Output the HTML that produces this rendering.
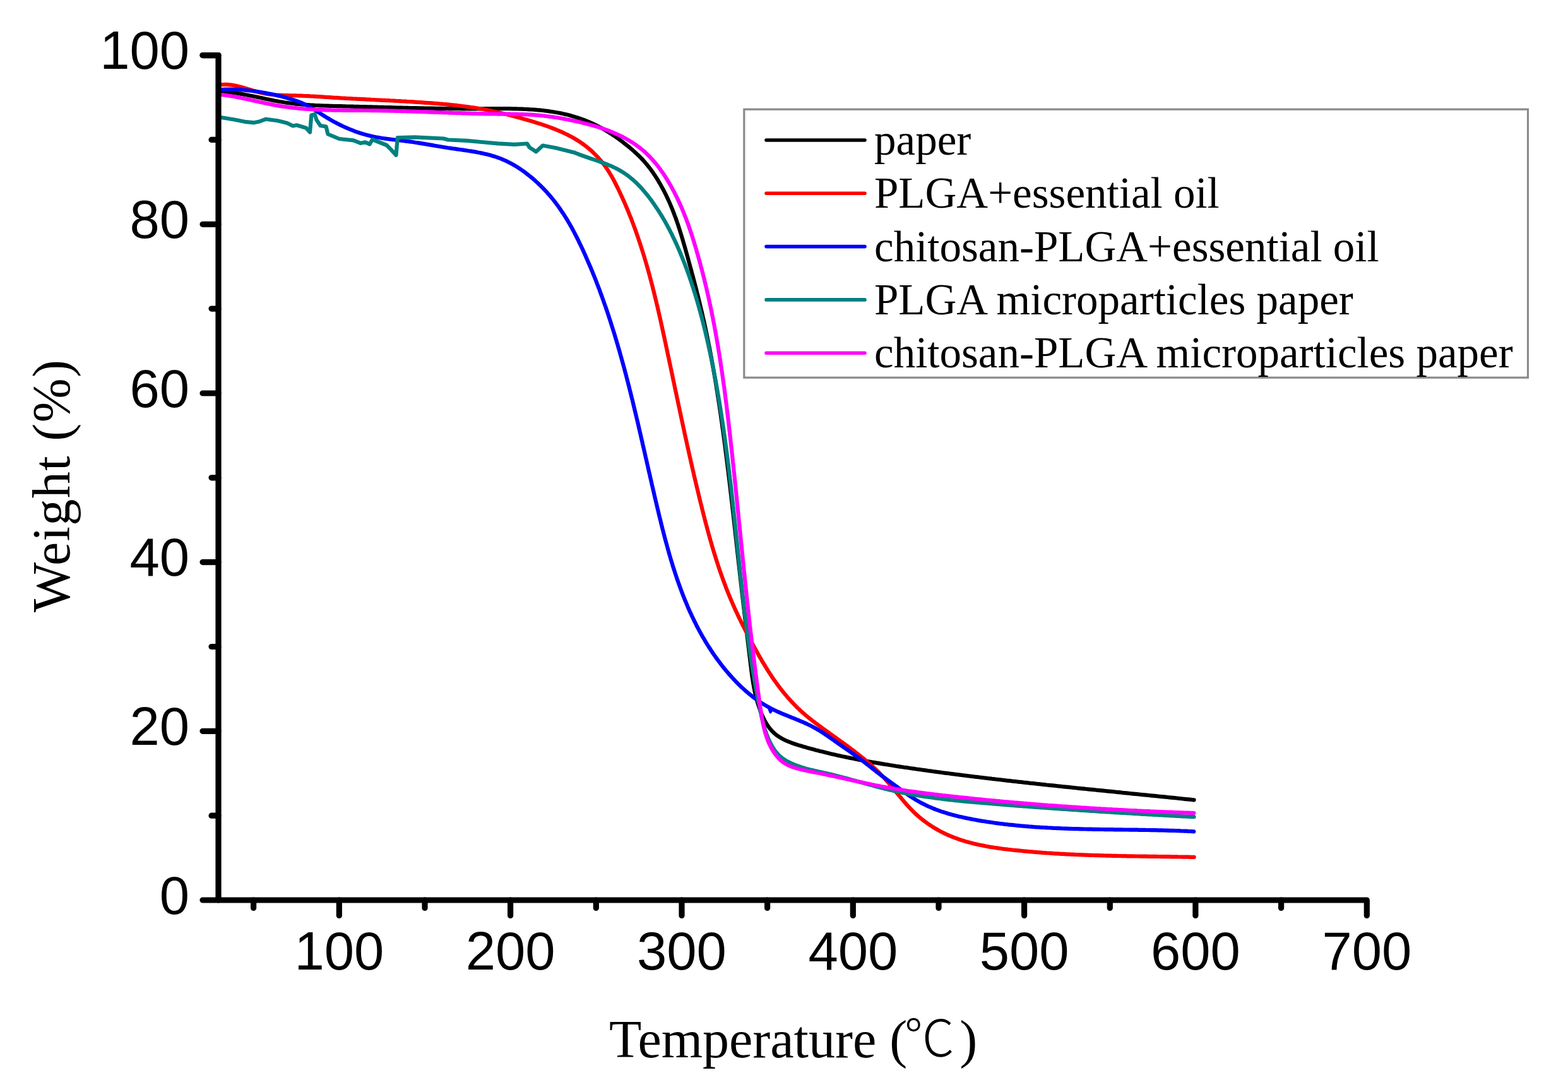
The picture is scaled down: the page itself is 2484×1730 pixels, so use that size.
<!DOCTYPE html>
<html><head><meta charset="utf-8"><title>TGA curves</title>
<style>
html,body{margin:0;padding:0;background:#fff;}
body{width:2484px;height:1730px;overflow:hidden;}
svg{display:block;}
.tick{font-family:"Liberation Sans",Arial,sans-serif;font-size:85px;fill:#000;}
.serif{font-family:"Liberation Serif","Times New Roman",serif;fill:#000;}
</style></head><body>
<svg width="2484" height="1730" viewBox="0 0 2484 1730">
<rect width="2484" height="1730" fill="#fff"/>
<g fill="none" stroke-linecap="round" stroke-linejoin="round" stroke-width="6.2">
<path d="M347.2 145.4 350.1 145.4 353.1 145.5 356.0 145.7 358.9 145.9 361.9 146.1 364.8 146.4 367.7 146.8 370.7 147.1 373.6 147.5 376.6 148.0 379.5 148.4 382.5 148.9 385.4 149.4 388.4 150.0 391.4 150.5 394.3 151.1 397.3 151.7 400.2 152.3 403.2 152.9 406.2 153.5 409.2 154.1 412.1 154.8 415.1 155.4 418.1 156.0 421.0 156.7 424.0 157.3 427.0 157.9 430.0 158.5 433.0 159.1 436.0 159.7 438.9 160.2 441.9 160.8 444.9 161.3 447.9 161.8 450.9 162.3 453.9 162.7 456.9 163.1 459.9 163.5 462.9 163.9 465.8 164.2 468.8 164.6 471.8 164.9 474.8 165.2 477.8 165.4 480.8 165.7 483.8 165.9 486.8 166.1 489.8 166.3 492.8 166.5 495.8 166.7 498.8 166.9 501.8 167.0 504.8 167.1 507.8 167.3 510.8 167.4 513.8 167.5 516.8 167.6 519.8 167.7 522.8 167.8 525.8 167.9 528.8 168.0 531.8 168.0 534.8 168.1 537.8 168.2 540.8 168.2 543.8 168.3 546.8 168.4 549.8 168.5 552.8 168.5 555.8 168.6 558.7 168.7 561.7 168.8 564.7 168.8 567.7 168.9 570.7 169.0 573.7 169.1 576.7 169.1 579.7 169.2 582.7 169.3 585.7 169.4 588.7 169.4 591.6 169.5 594.6 169.6 597.6 169.7 600.6 169.8 603.6 169.8 606.6 169.9 609.6 170.0 612.6 170.1 615.6 170.2 618.6 170.2 621.5 170.3 624.5 170.4 627.5 170.5 630.5 170.5 633.5 170.6 636.5 170.7 639.5 170.8 642.5 170.8 645.5 170.9 648.5 171.0 651.5 171.0 654.5 171.1 657.5 171.2 660.5 171.2 663.5 171.3 666.5 171.4 669.5 171.4 672.5 171.5 675.5 171.5 678.5 171.6 681.5 171.6 684.5 171.7 687.5 171.7 690.5 171.8 693.5 171.8 696.5 171.9 699.5 171.9 702.5 172.0 705.5 172.0 708.5 172.0 711.5 172.1 714.6 172.1 717.6 172.1 720.6 172.2 723.6 172.2 726.6 172.2 729.6 172.2 732.7 172.3 735.7 172.3 738.7 172.3 741.7 172.3 744.8 172.3 747.8 172.3 750.8 172.3 753.9 172.3 756.9 172.3 759.9 172.3 763.0 172.3 766.0 172.3 769.1 172.2 772.1 172.2 775.2 172.2 778.2 172.2 781.2 172.2 784.3 172.2 787.3 172.1 790.4 172.1 793.4 172.1 796.5 172.1 799.5 172.2 802.5 172.2 805.6 172.2 808.6 172.2 811.7 172.3 814.7 172.3 817.7 172.4 820.8 172.5 823.8 172.6 826.8 172.7 829.8 172.8 832.8 173.0 835.9 173.1 838.9 173.3 841.9 173.5 844.9 173.7 847.9 173.9 850.9 174.2 853.8 174.4 856.8 174.7 859.8 175.0 862.8 175.4 865.7 175.7 868.7 176.1 871.6 176.6 874.6 177.0 877.5 177.5 880.5 178.0 883.4 178.5 886.3 179.0 889.2 179.6 892.1 180.3 895.0 180.9 897.9 181.6 900.8 182.3 903.6 183.1 906.5 183.9 909.3 184.7 912.2 185.6 915.0 186.5 917.8 187.4 920.6 188.4 923.4 189.4 926.2 190.5 929.0 191.6 931.7 192.7 934.5 193.9 937.2 195.1 939.9 196.3 942.6 197.6 945.3 198.9 948.0 200.3 950.6 201.7 953.3 203.1 955.9 204.5 958.5 206.0 961.1 207.6 963.7 209.2 966.2 210.8 968.8 212.4 971.3 214.1 973.8 215.8 976.3 217.5 978.7 219.2 981.2 221.0 983.6 222.8 986.0 224.6 988.4 226.5 990.7 228.3 993.1 230.2 995.4 232.0 997.7 233.9 999.9 235.8 1002.2 237.7 1004.4 239.7 1006.6 241.7 1008.7 243.7 1010.9 245.7 1013.0 247.8 1015.1 249.9 1017.1 252.0 1019.2 254.2 1021.2 256.5 1023.1 258.7 1025.1 261.1 1027.0 263.5 1028.9 265.9 1030.8 268.4 1032.6 270.9 1034.4 273.4 1036.1 276.0 1037.9 278.6 1039.6 281.2 1041.3 283.9 1042.9 286.6 1044.5 289.3 1046.1 292.0 1047.6 294.7 1049.1 297.4 1050.6 300.1 1052.0 302.9 1053.4 305.6 1054.8 308.4 1056.1 311.1 1057.4 313.9 1058.7 316.6 1059.9 319.4 1061.1 322.1 1062.3 324.9 1063.5 327.7 1064.6 330.4 1065.7 333.2 1066.8 336.0 1067.9 338.8 1068.9 341.6 1070.0 344.3 1071.0 347.1 1072.0 349.9 1072.9 352.7 1073.9 355.5 1074.8 358.3 1075.7 361.1 1076.6 363.9 1077.5 366.8 1078.4 369.6 1079.3 372.4 1080.1 375.2 1081.0 378.0 1081.8 380.9 1082.6 383.7 1083.4 386.5 1084.3 389.4 1085.1 392.2 1085.9 395.1 1086.7 397.9 1087.5 400.8 1088.3 403.6 1089.1 406.5 1089.9 409.3 1090.7 412.2 1091.4 415.0 1092.2 417.9 1093.0 420.8 1093.8 423.6 1094.6 426.5 1095.4 429.4 1096.1 432.3 1096.9 435.1 1097.7 438.0 1098.4 440.9 1099.2 443.8 1100.0 446.7 1100.7 449.6 1101.5 452.5 1102.2 455.4 1103.0 458.3 1103.7 461.2 1104.4 464.1 1105.2 467.0 1105.9 469.9 1106.6 472.8 1107.3 475.7 1108.0 478.6 1108.7 481.5 1109.4 484.4 1110.1 487.4 1110.8 490.3 1111.5 493.2 1112.2 496.1 1112.9 499.1 1113.5 502.0 1114.2 504.9 1114.9 507.8 1115.5 510.8 1116.2 513.7 1116.8 516.7 1117.4 519.6 1118.1 522.5 1118.7 525.5 1119.3 528.4 1119.9 531.4 1120.5 534.3 1121.1 537.3 1121.7 540.2 1122.3 543.2 1122.9 546.1 1123.5 549.1 1124.1 552.0 1124.6 555.0 1125.2 557.9 1125.8 560.9 1126.3 563.9 1126.9 566.8 1127.4 569.8 1128.0 572.8 1128.5 575.7 1129.0 578.7 1129.6 581.7 1130.1 584.6 1130.6 587.6 1131.1 590.6 1131.7 593.5 1132.2 596.5 1132.7 599.5 1133.2 602.5 1133.7 605.4 1134.2 608.4 1134.6 611.4 1135.1 614.4 1135.6 617.4 1136.1 620.3 1136.6 623.3 1137.0 626.3 1137.5 629.3 1138.0 632.3 1138.4 635.3 1138.9 638.2 1139.3 641.2 1139.8 644.2 1140.2 647.2 1140.7 650.2 1141.1 653.2 1141.6 656.2 1142.0 659.2 1142.4 662.1 1142.8 665.1 1143.3 668.1 1143.7 671.1 1144.1 674.1 1144.5 677.1 1144.9 680.1 1145.4 683.1 1145.8 686.1 1146.2 689.1 1146.6 692.0 1147.0 695.0 1147.4 698.0 1147.8 701.0 1148.2 704.0 1148.6 707.0 1149.0 710.0 1149.3 713.0 1149.7 716.0 1150.1 719.0 1150.5 722.0 1150.9 725.0 1151.3 727.9 1151.6 730.9 1152.0 733.9 1152.4 736.9 1152.7 739.9 1153.1 742.9 1153.5 745.9 1153.9 748.9 1154.2 751.9 1154.6 754.9 1154.9 757.9 1155.3 760.9 1155.7 763.8 1156.0 766.8 1156.4 769.8 1156.7 772.8 1157.1 775.8 1157.4 778.8 1157.8 781.8 1158.1 784.8 1158.5 787.8 1158.8 790.8 1159.2 793.8 1159.5 796.7 1159.9 799.7 1160.2 802.7 1160.5 805.7 1160.9 808.7 1161.2 811.7 1161.6 814.7 1161.9 817.7 1162.2 820.7 1162.6 823.7 1162.9 826.6 1163.2 829.6 1163.6 832.6 1163.9 835.6 1164.3 838.6 1164.6 841.6 1164.9 844.6 1165.3 847.6 1165.6 850.5 1165.9 853.5 1166.3 856.5 1166.6 859.5 1166.9 862.5 1167.3 865.5 1167.6 868.5 1167.9 871.4 1168.2 874.4 1168.6 877.4 1168.9 880.4 1169.2 883.4 1169.6 886.4 1169.9 889.3 1170.2 892.3 1170.6 895.3 1170.9 898.3 1171.2 901.3 1171.6 904.3 1171.9 907.2 1172.2 910.2 1172.6 913.2 1172.9 916.2 1173.3 919.2 1173.6 922.1 1173.9 925.1 1174.3 928.1 1174.6 931.1 1175.0 934.1 1175.3 937.0 1175.6 940.0 1176.0 943.0 1176.3 946.0 1176.7 948.9 1177.0 951.9 1177.4 954.9 1177.7 957.9 1178.1 960.8 1178.4 963.8 1178.8 966.8 1179.1 969.8 1179.5 972.7 1179.8 975.7 1180.2 978.7 1180.5 981.6 1180.9 984.6 1181.2 987.6 1181.6 990.5 1182.0 993.5 1182.3 996.5 1182.7 999.5 1183.0 1002.4 1183.4 1005.4 1183.7 1008.4 1184.1 1011.3 1184.5 1014.3 1184.8 1017.2 1185.2 1020.2 1185.5 1023.2 1185.9 1026.1 1186.3 1029.1 1186.6 1032.1 1187.0 1035.0 1187.3 1038.0 1187.7 1040.9 1188.1 1043.9 1188.4 1046.9 1188.8 1049.8 1189.1 1052.8 1189.5 1055.7 1189.9 1058.7 1190.2 1061.6 1190.6 1064.6 1191.0 1067.5 1191.4 1070.5 1191.8 1073.5 1192.3 1076.4 1192.7 1079.4 1193.2 1082.3 1193.7 1085.3 1194.3 1088.2 1194.8 1091.2 1195.4 1094.1 1196.0 1097.0 1196.7 1100.0 1197.4 1102.9 1198.1 1105.9 1198.9 1108.8 1199.8 1111.8 1200.6 1114.7 1201.6 1117.7 1202.5 1120.6 1203.6 1123.5 1204.6 1126.5 1205.8 1129.4 1207.0 1132.3 1208.3 1135.1 1209.6 1137.9 1211.0 1140.7 1212.5 1143.4 1214.0 1146.0 1215.6 1148.6 1217.3 1151.1 1219.1 1153.5 1221.0 1155.8 1222.9 1158.0 1225.0 1160.0 1227.1 1162.0 1229.3 1163.9 1231.6 1165.6 1234.0 1167.2 1236.4 1168.7 1238.9 1170.2 1241.5 1171.5 1244.1 1172.8 1246.8 1174.0 1249.5 1175.2 1252.3 1176.2 1255.1 1177.3 1257.9 1178.2 1260.8 1179.2 1263.6 1180.1 1266.5 1181.0 1269.4 1181.8 1272.3 1182.7 1275.2 1183.5 1278.2 1184.4 1281.1 1185.2 1284.0 1186.0 1286.9 1186.8 1289.8 1187.6 1292.8 1188.4 1295.7 1189.1 1298.6 1189.9 1301.6 1190.6 1304.5 1191.3 1307.4 1192.1 1310.4 1192.8 1313.3 1193.5 1316.3 1194.2 1319.2 1194.9 1322.2 1195.5 1325.1 1196.2 1328.1 1196.9 1331.0 1197.5 1334.0 1198.2 1336.9 1198.8 1339.9 1199.4 1342.8 1200.0 1345.8 1200.6 1348.7 1201.2 1351.7 1201.8 1354.7 1202.4 1357.6 1203.0 1360.6 1203.6 1363.5 1204.1 1366.5 1204.7 1369.4 1205.2 1372.4 1205.8 1375.4 1206.3 1378.3 1206.8 1381.3 1207.4 1384.2 1207.9 1387.2 1208.4 1390.2 1208.9 1393.1 1209.4 1396.1 1209.9 1399.0 1210.4 1402.0 1210.9 1405.0 1211.3 1407.9 1211.8 1410.9 1212.3 1413.9 1212.7 1416.8 1213.2 1419.8 1213.7 1422.7 1214.1 1425.7 1214.6 1428.7 1215.0 1431.6 1215.5 1434.6 1215.9 1437.6 1216.3 1440.5 1216.8 1443.5 1217.2 1446.5 1217.6 1449.4 1218.0 1452.4 1218.5 1455.4 1218.9 1458.3 1219.3 1461.3 1219.7 1464.3 1220.1 1467.3 1220.5 1470.2 1221.0 1473.2 1221.4 1476.2 1221.8 1479.1 1222.2 1482.1 1222.6 1485.1 1223.0 1488.1 1223.4 1491.0 1223.8 1494.0 1224.2 1497.0 1224.6 1500.0 1224.9 1502.9 1225.3 1505.9 1225.7 1508.9 1226.1 1511.9 1226.5 1514.9 1226.9 1517.8 1227.2 1520.8 1227.6 1523.8 1228.0 1526.8 1228.4 1529.8 1228.7 1532.7 1229.1 1535.7 1229.5 1538.7 1229.9 1541.7 1230.2 1544.7 1230.6 1547.7 1230.9 1550.6 1231.3 1553.6 1231.7 1556.6 1232.0 1559.6 1232.4 1562.6 1232.7 1565.6 1233.1 1568.5 1233.4 1571.5 1233.8 1574.5 1234.1 1577.5 1234.5 1580.5 1234.8 1583.5 1235.2 1586.5 1235.5 1589.5 1235.9 1592.4 1236.2 1595.4 1236.6 1598.4 1236.9 1601.4 1237.2 1604.4 1237.6 1607.4 1237.9 1610.4 1238.2 1613.4 1238.6 1616.4 1238.9 1619.3 1239.2 1622.3 1239.6 1625.3 1239.9 1628.3 1240.2 1631.3 1240.6 1634.3 1240.9 1637.3 1241.2 1640.3 1241.5 1643.3 1241.9 1646.3 1242.2 1649.3 1242.5 1652.2 1242.8 1655.2 1243.1 1658.2 1243.5 1661.2 1243.8 1664.2 1244.1 1667.2 1244.4 1670.2 1244.7 1673.2 1245.0 1676.2 1245.4 1679.2 1245.7 1682.2 1246.0 1685.2 1246.3 1688.2 1246.6 1691.2 1246.9 1694.1 1247.2 1697.1 1247.5 1700.1 1247.8 1703.1 1248.2 1706.1 1248.5 1709.1 1248.8 1712.1 1249.1 1715.1 1249.4 1718.1 1249.7 1721.1 1250.0 1724.1 1250.3 1727.1 1250.6 1730.1 1250.9 1733.1 1251.2 1736.0 1251.5 1739.0 1251.8 1742.0 1252.1 1745.0 1252.4 1748.0 1252.7 1751.0 1253.0 1754.0 1253.3 1757.0 1253.6 1760.0 1253.9 1763.0 1254.2 1766.0 1254.5 1769.0 1254.8 1772.0 1255.1 1775.0 1255.4 1777.9 1255.8 1780.9 1256.1 1783.9 1256.4 1786.9 1256.7 1789.9 1257.0 1792.9 1257.3 1795.9 1257.6 1798.9 1257.9 1801.9 1258.2 1804.9 1258.5 1807.9 1258.8 1810.8 1259.1 1813.8 1259.4 1816.8 1259.7 1819.8 1260.0 1822.8 1260.3 1825.8 1260.6 1828.8 1260.9 1831.8 1261.2 1834.8 1261.5 1837.7 1261.8 1840.7 1262.1 1843.7 1262.4 1846.7 1262.7 1849.7 1263.0 1852.7 1263.3 1855.7 1263.6 1858.7 1263.9 1861.6 1264.2 1864.6 1264.5 1867.6 1264.8 1870.6 1265.2 1873.6 1265.5 1876.6 1265.8 1879.5 1266.1 1882.5 1266.4 1885.5 1266.7 1888.5 1267.0 1891.5 1267.3" stroke="#000"/>
<path d="M347.3 134.6 350.2 134.2 353.1 134.0 356.0 133.9 358.9 133.9 361.8 134.1 364.7 134.4 367.6 134.8 370.6 135.3 373.5 135.8 376.4 136.5 379.3 137.2 382.2 138.0 385.2 138.8 388.1 139.7 391.0 140.5 393.9 141.4 396.9 142.3 399.8 143.2 402.8 144.1 405.7 144.9 408.6 145.7 411.6 146.5 414.5 147.2 417.5 147.8 420.4 148.4 423.4 148.9 426.3 149.3 429.3 149.6 432.2 150.0 435.2 150.2 438.1 150.5 441.1 150.6 444.1 150.8 447.0 150.9 450.0 151.0 453.0 151.1 455.9 151.2 458.9 151.3 461.9 151.3 464.9 151.4 467.8 151.4 470.8 151.5 473.8 151.6 476.8 151.7 479.8 151.8 482.7 152.0 485.7 152.1 488.7 152.2 491.7 152.4 494.7 152.5 497.7 152.7 500.7 152.9 503.7 153.1 506.7 153.2 509.7 153.4 512.7 153.6 515.7 153.8 518.7 154.0 521.7 154.2 524.7 154.4 527.7 154.6 530.7 154.8 533.7 154.9 536.7 155.1 539.7 155.3 542.7 155.5 545.7 155.6 548.7 155.8 551.7 156.0 554.7 156.1 557.8 156.3 560.8 156.5 563.8 156.6 566.8 156.8 569.8 156.9 572.8 157.1 575.9 157.2 578.9 157.4 581.9 157.6 584.9 157.7 587.9 157.9 590.9 158.0 593.9 158.2 597.0 158.3 600.0 158.5 603.0 158.6 606.0 158.8 609.0 158.9 612.0 159.1 615.1 159.2 618.1 159.4 621.1 159.5 624.1 159.7 627.1 159.9 630.1 160.0 633.1 160.2 636.1 160.4 639.1 160.5 642.1 160.7 645.1 160.9 648.1 161.0 651.1 161.2 654.1 161.4 657.1 161.6 660.1 161.8 663.1 162.0 666.1 162.2 669.1 162.4 672.1 162.6 675.1 162.8 678.1 163.0 681.1 163.2 684.1 163.4 687.1 163.7 690.0 163.9 693.0 164.1 696.0 164.4 699.0 164.6 701.9 164.9 704.9 165.1 707.9 165.4 710.8 165.7 713.8 166.0 716.8 166.3 719.7 166.6 722.7 166.9 725.7 167.3 728.6 167.6 731.6 168.0 734.5 168.3 737.5 168.7 740.4 169.1 743.4 169.5 746.3 170.0 749.3 170.4 752.2 170.9 755.2 171.3 758.1 171.8 761.1 172.3 764.0 172.8 767.0 173.4 769.9 173.9 772.9 174.5 775.8 175.1 778.7 175.7 781.7 176.3 784.6 177.0 787.6 177.6 790.5 178.3 793.4 179.0 796.4 179.7 799.3 180.4 802.2 181.1 805.2 181.9 808.1 182.6 811.0 183.4 814.0 184.1 816.9 184.9 819.8 185.7 822.8 186.5 825.7 187.3 828.6 188.2 831.6 189.0 834.5 189.8 837.4 190.7 840.4 191.5 843.3 192.4 846.2 193.3 849.1 194.2 852.0 195.1 854.9 196.0 857.8 196.9 860.7 197.9 863.6 198.9 866.4 199.9 869.3 200.9 872.1 201.9 874.9 203.0 877.8 204.1 880.5 205.2 883.3 206.4 886.1 207.5 888.8 208.7 891.6 209.9 894.3 211.2 896.9 212.5 899.6 213.8 902.2 215.2 904.9 216.6 907.5 218.0 910.0 219.5 912.6 221.0 915.1 222.5 917.6 224.1 920.0 225.7 922.4 227.4 924.8 229.1 927.2 230.9 929.5 232.7 931.8 234.6 934.1 236.5 936.3 238.4 938.5 240.4 940.6 242.5 942.7 244.6 944.8 246.7 946.9 248.9 948.9 251.1 950.8 253.4 952.7 255.7 954.6 258.0 956.5 260.4 958.3 262.8 960.0 265.3 961.7 267.8 963.4 270.3 965.0 272.9 966.6 275.5 968.2 278.1 969.7 280.7 971.2 283.4 972.6 286.1 974.0 288.8 975.4 291.5 976.8 294.3 978.2 297.0 979.5 299.8 980.8 302.5 982.2 305.3 983.4 308.1 984.7 310.8 986.0 313.6 987.2 316.4 988.5 319.1 989.7 321.9 990.9 324.7 992.1 327.5 993.3 330.3 994.4 333.0 995.6 335.8 996.7 338.6 997.8 341.4 999.0 344.2 1000.1 347.0 1001.1 349.8 1002.2 352.6 1003.3 355.5 1004.3 358.3 1005.4 361.1 1006.4 363.9 1007.4 366.7 1008.4 369.5 1009.4 372.4 1010.4 375.2 1011.3 378.0 1012.3 380.9 1013.2 383.7 1014.2 386.5 1015.1 389.4 1016.0 392.2 1016.9 395.1 1017.8 397.9 1018.7 400.8 1019.6 403.6 1020.5 406.5 1021.3 409.3 1022.2 412.2 1023.0 415.1 1023.9 417.9 1024.7 420.8 1025.5 423.6 1026.3 426.5 1027.1 429.4 1027.9 432.3 1028.7 435.1 1029.5 438.0 1030.2 440.9 1031.0 443.8 1031.8 446.7 1032.5 449.5 1033.3 452.4 1034.0 455.3 1034.7 458.2 1035.5 461.1 1036.2 464.0 1036.9 466.9 1037.6 469.8 1038.3 472.7 1039.0 475.6 1039.7 478.5 1040.4 481.4 1041.1 484.3 1041.8 487.2 1042.4 490.1 1043.1 493.0 1043.8 495.9 1044.4 498.8 1045.1 501.8 1045.8 504.7 1046.4 507.6 1047.1 510.5 1047.7 513.4 1048.3 516.3 1049.0 519.3 1049.6 522.2 1050.3 525.1 1050.9 528.0 1051.5 531.0 1052.2 533.9 1052.8 536.8 1053.4 539.7 1054.1 542.7 1054.7 545.6 1055.3 548.5 1055.9 551.5 1056.6 554.4 1057.2 557.3 1057.8 560.3 1058.4 563.2 1059.1 566.2 1059.7 569.1 1060.3 572.0 1060.9 575.0 1061.6 577.9 1062.2 580.9 1062.8 583.8 1063.4 586.7 1064.0 589.7 1064.7 592.6 1065.3 595.6 1065.9 598.5 1066.5 601.5 1067.1 604.4 1067.8 607.4 1068.4 610.3 1069.0 613.3 1069.6 616.2 1070.2 619.2 1070.9 622.1 1071.5 625.0 1072.1 628.0 1072.7 630.9 1073.4 633.9 1074.0 636.8 1074.6 639.8 1075.2 642.7 1075.9 645.7 1076.5 648.7 1077.1 651.6 1077.8 654.6 1078.4 657.5 1079.0 660.5 1079.6 663.4 1080.3 666.4 1080.9 669.3 1081.6 672.3 1082.2 675.2 1082.8 678.2 1083.5 681.1 1084.1 684.1 1084.7 687.0 1085.4 690.0 1086.0 692.9 1086.7 695.9 1087.3 698.8 1088.0 701.8 1088.6 704.7 1089.3 707.7 1089.9 710.6 1090.6 713.5 1091.2 716.5 1091.9 719.4 1092.5 722.4 1093.2 725.3 1093.9 728.3 1094.5 731.2 1095.2 734.2 1095.9 737.1 1096.5 740.0 1097.2 743.0 1097.9 745.9 1098.6 748.9 1099.2 751.8 1099.9 754.7 1100.6 757.7 1101.3 760.6 1102.0 763.6 1102.7 766.5 1103.4 769.4 1104.1 772.4 1104.8 775.3 1105.5 778.2 1106.2 781.1 1106.9 784.1 1107.6 787.0 1108.3 789.9 1109.0 792.9 1109.7 795.8 1110.5 798.7 1111.2 801.6 1111.9 804.5 1112.6 807.5 1113.4 810.4 1114.1 813.3 1114.8 816.2 1115.6 819.1 1116.3 822.0 1117.1 825.0 1117.8 827.9 1118.6 830.8 1119.4 833.7 1120.2 836.6 1120.9 839.5 1121.7 842.4 1122.5 845.3 1123.3 848.2 1124.1 851.1 1124.9 853.9 1125.7 856.8 1126.6 859.7 1127.4 862.6 1128.2 865.5 1129.1 868.4 1129.9 871.2 1130.8 874.1 1131.7 877.0 1132.6 879.8 1133.4 882.7 1134.3 885.6 1135.3 888.4 1136.2 891.3 1137.1 894.1 1138.0 897.0 1139.0 899.8 1139.9 902.6 1140.9 905.5 1141.9 908.3 1142.9 911.1 1143.9 914.0 1144.9 916.8 1145.9 919.6 1147.0 922.4 1148.0 925.2 1149.1 928.0 1150.1 930.8 1151.2 933.6 1152.3 936.4 1153.4 939.2 1154.6 942.0 1155.7 944.8 1156.9 947.5 1158.0 950.3 1159.2 953.1 1160.4 955.8 1161.6 958.6 1162.8 961.3 1164.1 964.1 1165.3 966.8 1166.6 969.5 1167.9 972.3 1169.1 975.0 1170.4 977.7 1171.7 980.4 1173.1 983.1 1174.4 985.8 1175.7 988.5 1177.1 991.2 1178.4 993.9 1179.8 996.6 1181.1 999.2 1182.5 1001.9 1183.9 1004.6 1185.3 1007.2 1186.7 1009.9 1188.1 1012.5 1189.5 1015.2 1190.9 1017.8 1192.3 1020.4 1193.7 1023.0 1195.1 1025.6 1196.5 1028.2 1198.0 1030.8 1199.4 1033.4 1200.9 1036.0 1202.3 1038.6 1203.8 1041.2 1205.3 1043.7 1206.7 1046.3 1208.2 1048.8 1209.8 1051.4 1211.3 1053.9 1212.8 1056.4 1214.4 1058.9 1215.9 1061.4 1217.5 1064.0 1219.2 1066.4 1220.8 1068.9 1222.4 1071.4 1224.1 1073.9 1225.8 1076.4 1227.5 1078.8 1229.3 1081.3 1231.0 1083.7 1232.8 1086.1 1234.7 1088.6 1236.5 1091.0 1238.4 1093.4 1240.3 1095.8 1242.2 1098.1 1244.2 1100.5 1246.2 1102.8 1248.2 1105.2 1250.2 1107.5 1252.3 1109.7 1254.3 1112.0 1256.4 1114.2 1258.5 1116.4 1260.7 1118.6 1262.8 1120.8 1265.0 1122.9 1267.2 1124.9 1269.4 1127.0 1271.6 1129.0 1273.9 1130.9 1276.1 1132.9 1278.4 1134.8 1280.7 1136.7 1283.0 1138.5 1285.3 1140.3 1287.6 1142.2 1290.0 1143.9 1292.3 1145.7 1294.7 1147.5 1297.1 1149.3 1299.4 1151.0 1301.8 1152.8 1304.2 1154.5 1306.7 1156.3 1309.1 1158.0 1311.5 1159.8 1313.9 1161.5 1316.4 1163.2 1318.8 1165.0 1321.2 1166.7 1323.7 1168.5 1326.1 1170.2 1328.6 1172.0 1331.0 1173.7 1333.4 1175.5 1335.9 1177.3 1338.3 1179.0 1340.7 1180.8 1343.2 1182.6 1345.6 1184.4 1348.0 1186.2 1350.4 1188.0 1352.8 1189.8 1355.2 1191.7 1357.6 1193.5 1359.9 1195.4 1362.3 1197.2 1364.7 1199.1 1367.0 1201.0 1369.3 1202.9 1371.6 1204.9 1373.9 1206.8 1376.2 1208.8 1378.4 1210.7 1380.7 1212.7 1382.9 1214.8 1385.1 1216.8 1387.3 1218.8 1389.5 1220.9 1391.6 1223.0 1393.7 1225.2 1395.8 1227.3 1397.9 1229.5 1399.9 1231.7 1401.9 1233.9 1403.9 1236.1 1405.9 1238.4 1407.9 1240.7 1409.8 1242.9 1411.8 1245.3 1413.7 1247.6 1415.6 1249.9 1417.5 1252.2 1419.4 1254.5 1421.3 1256.9 1423.2 1259.2 1425.2 1261.5 1427.1 1263.8 1429.0 1266.1 1430.9 1268.4 1432.9 1270.7 1434.8 1272.9 1436.8 1275.2 1438.8 1277.4 1440.9 1279.6 1442.9 1281.8 1445.0 1283.9 1447.1 1286.0 1449.2 1288.1 1451.4 1290.1 1453.6 1292.1 1455.9 1294.1 1458.2 1296.0 1460.5 1297.9 1462.8 1299.7 1465.2 1301.5 1467.6 1303.3 1470.0 1305.0 1472.5 1306.7 1475.0 1308.3 1477.5 1310.0 1480.1 1311.5 1482.6 1313.0 1485.2 1314.5 1487.8 1316.0 1490.5 1317.4 1493.1 1318.8 1495.8 1320.1 1498.5 1321.4 1501.2 1322.6 1504.0 1323.8 1506.7 1325.0 1509.5 1326.1 1512.2 1327.2 1515.0 1328.2 1517.9 1329.2 1520.7 1330.2 1523.5 1331.1 1526.4 1332.0 1529.2 1332.9 1532.1 1333.7 1535.0 1334.5 1537.9 1335.3 1540.8 1336.0 1543.7 1336.8 1546.6 1337.4 1549.6 1338.1 1552.5 1338.7 1555.5 1339.3 1558.4 1339.9 1561.4 1340.5 1564.4 1341.0 1567.4 1341.6 1570.4 1342.1 1573.4 1342.5 1576.4 1343.0 1579.4 1343.4 1582.4 1343.9 1585.4 1344.3 1588.4 1344.7 1591.4 1345.1 1594.4 1345.4 1597.4 1345.8 1600.4 1346.1 1603.5 1346.5 1606.5 1346.8 1609.5 1347.1 1612.5 1347.4 1615.5 1347.7 1618.5 1348.0 1621.5 1348.3 1624.6 1348.6 1627.6 1348.9 1630.6 1349.2 1633.6 1349.4 1636.6 1349.7 1639.6 1349.9 1642.6 1350.2 1645.6 1350.4 1648.6 1350.6 1651.6 1350.9 1654.6 1351.1 1657.6 1351.3 1660.6 1351.5 1663.6 1351.7 1666.6 1351.9 1669.6 1352.1 1672.6 1352.3 1675.6 1352.4 1678.5 1352.6 1681.5 1352.8 1684.5 1352.9 1687.5 1353.1 1690.5 1353.3 1693.5 1353.4 1696.5 1353.6 1699.5 1353.7 1702.5 1353.8 1705.5 1354.0 1708.5 1354.1 1711.4 1354.2 1714.4 1354.3 1717.4 1354.4 1720.4 1354.6 1723.4 1354.7 1726.4 1354.8 1729.4 1354.9 1732.4 1355.0 1735.3 1355.1 1738.3 1355.2 1741.3 1355.2 1744.3 1355.3 1747.3 1355.4 1750.3 1355.5 1753.3 1355.6 1756.3 1355.6 1759.2 1355.7 1762.2 1355.8 1765.2 1355.8 1768.2 1355.9 1771.2 1356.0 1774.2 1356.0 1777.2 1356.1 1780.2 1356.1 1783.2 1356.2 1786.2 1356.3 1789.2 1356.3 1792.2 1356.4 1795.2 1356.4 1798.1 1356.5 1801.1 1356.5 1804.1 1356.5 1807.1 1356.6 1810.1 1356.6 1813.1 1356.7 1816.1 1356.7 1819.2 1356.8 1822.2 1356.8 1825.2 1356.8 1828.2 1356.9 1831.2 1356.9 1834.2 1357.0 1837.2 1357.0 1840.2 1357.1 1843.2 1357.1 1846.2 1357.1 1849.2 1357.2 1852.3 1357.2 1855.3 1357.3 1858.3 1357.3 1861.3 1357.4 1864.3 1357.4 1867.4 1357.5 1870.4 1357.5 1873.4 1357.6 1876.5 1357.6 1879.5 1357.7 1882.5 1357.7 1885.6 1357.8 1888.6 1357.8 1891.6 1357.9" stroke="#ff0000"/>
<path d="M347.1 142.1 350.0 141.9 353.0 141.8 355.9 141.7 358.9 141.6 361.9 141.6 364.9 141.6 367.8 141.6 370.9 141.7 373.9 141.8 376.9 141.9 379.9 142.1 382.9 142.3 385.9 142.5 389.0 142.8 392.0 143.1 395.0 143.4 398.0 143.8 401.1 144.2 404.1 144.6 407.1 145.0 410.1 145.5 413.1 146.0 416.1 146.5 419.1 147.0 422.1 147.6 425.1 148.2 428.1 148.8 431.0 149.4 434.0 150.0 436.9 150.7 439.9 151.4 442.8 152.1 445.7 152.8 448.6 153.6 451.4 154.3 454.3 155.1 457.1 155.9 459.9 156.7 462.7 157.6 465.5 158.5 468.3 159.4 471.0 160.4 473.7 161.4 476.5 162.4 479.2 163.6 481.8 164.8 484.5 166.1 487.1 167.5 489.8 168.9 492.4 170.4 495.0 172.0 497.6 173.6 500.2 175.2 502.8 176.9 505.4 178.5 508.0 180.2 510.6 181.9 513.2 183.5 515.9 185.2 518.5 186.8 521.1 188.3 523.8 189.9 526.4 191.4 529.1 192.9 531.8 194.3 534.5 195.7 537.2 197.1 539.9 198.4 542.6 199.7 545.3 201.0 548.0 202.2 550.8 203.4 553.5 204.5 556.3 205.7 559.0 206.7 561.8 207.8 564.6 208.8 567.4 209.8 570.2 210.7 573.0 211.6 575.8 212.4 578.7 213.3 581.5 214.0 584.4 214.8 587.2 215.4 590.1 216.1 593.0 216.7 595.9 217.3 598.8 217.8 601.7 218.3 604.6 218.8 607.5 219.2 610.5 219.6 613.4 220.0 616.3 220.4 619.3 220.8 622.3 221.2 625.2 221.5 628.2 221.8 631.2 222.2 634.2 222.5 637.1 222.9 640.1 223.2 643.1 223.6 646.1 224.0 649.1 224.4 652.2 224.8 655.2 225.2 658.2 225.7 661.2 226.1 664.2 226.6 667.2 227.1 670.3 227.6 673.3 228.1 676.3 228.6 679.3 229.1 682.4 229.6 685.4 230.1 688.4 230.7 691.4 231.2 694.5 231.7 697.5 232.2 700.5 232.7 703.5 233.2 706.6 233.7 709.6 234.2 712.6 234.6 715.6 235.1 718.6 235.5 721.6 235.9 724.6 236.4 727.6 236.8 730.6 237.2 733.6 237.6 736.6 238.1 739.6 238.5 742.5 239.0 745.5 239.4 748.4 239.9 751.4 240.4 754.3 240.9 757.2 241.5 760.1 242.0 763.0 242.6 765.9 243.2 768.8 243.9 771.7 244.6 774.5 245.3 777.4 246.1 780.2 246.9 783.0 247.7 785.8 248.6 788.6 249.6 791.3 250.6 794.1 251.7 796.8 252.8 799.5 254.0 802.2 255.2 804.9 256.5 807.6 257.9 810.2 259.3 812.8 260.7 815.4 262.2 818.0 263.8 820.6 265.4 823.1 267.1 825.6 268.8 828.1 270.5 830.6 272.3 833.0 274.1 835.4 276.0 837.8 277.9 840.2 279.8 842.6 281.7 844.9 283.7 847.2 285.7 849.4 287.7 851.7 289.8 853.9 291.9 856.1 294.0 858.2 296.1 860.4 298.3 862.5 300.5 864.5 302.7 866.6 304.9 868.6 307.2 870.6 309.5 872.6 311.8 874.5 314.1 876.4 316.4 878.3 318.8 880.1 321.2 881.9 323.6 883.7 326.0 885.5 328.5 887.2 330.9 888.9 333.4 890.6 335.9 892.3 338.4 893.9 340.9 895.5 343.5 897.1 346.0 898.7 348.6 900.2 351.2 901.7 353.8 903.2 356.4 904.7 359.0 906.2 361.6 907.6 364.3 909.0 366.9 910.4 369.6 911.8 372.3 913.2 375.0 914.6 377.7 915.9 380.4 917.2 383.1 918.5 385.8 919.8 388.5 921.1 391.2 922.4 394.0 923.7 396.7 924.9 399.4 926.2 402.2 927.4 404.9 928.6 407.7 929.8 410.4 931.0 413.2 932.2 415.9 933.4 418.7 934.6 421.5 935.8 424.2 936.9 427.0 938.1 429.8 939.2 432.5 940.3 435.3 941.5 438.1 942.6 440.9 943.7 443.7 944.8 446.5 945.8 449.3 946.9 452.0 948.0 454.8 949.1 457.6 950.1 460.5 951.1 463.3 952.2 466.1 953.2 468.9 954.2 471.7 955.2 474.5 956.2 477.3 957.2 480.2 958.2 483.0 959.2 485.8 960.2 488.6 961.2 491.5 962.1 494.3 963.1 497.1 964.0 500.0 964.9 502.8 965.9 505.7 966.8 508.5 967.7 511.4 968.6 514.2 969.5 517.1 970.4 519.9 971.3 522.8 972.2 525.6 973.1 528.5 974.0 531.4 974.8 534.2 975.7 537.1 976.6 540.0 977.4 542.8 978.3 545.7 979.1 548.6 979.9 551.5 980.8 554.3 981.6 557.2 982.4 560.1 983.2 563.0 984.0 565.9 984.8 568.8 985.6 571.6 986.4 574.5 987.2 577.4 988.0 580.3 988.8 583.2 989.6 586.1 990.3 589.0 991.1 591.9 991.9 594.8 992.6 597.7 993.4 600.6 994.1 603.5 994.9 606.5 995.6 609.4 996.4 612.3 997.1 615.2 997.8 618.1 998.6 621.0 999.3 623.9 1000.0 626.8 1000.7 629.8 1001.5 632.7 1002.2 635.6 1002.9 638.5 1003.6 641.5 1004.3 644.4 1005.0 647.3 1005.7 650.2 1006.4 653.2 1007.1 656.1 1007.8 659.0 1008.5 661.9 1009.2 664.9 1009.9 667.8 1010.6 670.7 1011.3 673.7 1011.9 676.6 1012.6 679.5 1013.3 682.5 1014.0 685.4 1014.7 688.4 1015.3 691.3 1016.0 694.2 1016.7 697.2 1017.4 700.1 1018.0 703.1 1018.7 706.0 1019.4 708.9 1020.1 711.9 1020.7 714.8 1021.4 717.8 1022.1 720.7 1022.7 723.7 1023.4 726.6 1024.1 729.6 1024.8 732.5 1025.4 735.4 1026.1 738.4 1026.8 741.3 1027.4 744.3 1028.1 747.2 1028.8 750.2 1029.5 753.1 1030.1 756.1 1030.8 759.0 1031.5 762.0 1032.2 764.9 1032.8 767.9 1033.5 770.8 1034.2 773.8 1034.9 776.7 1035.6 779.7 1036.2 782.6 1036.9 785.5 1037.6 788.5 1038.3 791.4 1039.0 794.4 1039.7 797.3 1040.4 800.3 1041.1 803.2 1041.8 806.2 1042.5 809.1 1043.2 812.1 1043.9 815.0 1044.6 817.9 1045.3 820.9 1046.1 823.8 1046.8 826.8 1047.5 829.7 1048.2 832.6 1049.0 835.6 1049.7 838.5 1050.5 841.4 1051.2 844.4 1052.0 847.3 1052.7 850.2 1053.5 853.1 1054.3 856.1 1055.1 859.0 1055.9 861.9 1056.7 864.8 1057.5 867.7 1058.3 870.6 1059.1 873.5 1059.9 876.4 1060.7 879.3 1061.6 882.2 1062.4 885.1 1063.3 888.0 1064.2 890.9 1065.1 893.7 1065.9 896.6 1066.8 899.5 1067.7 902.3 1068.7 905.2 1069.6 908.1 1070.5 910.9 1071.5 913.7 1072.4 916.6 1073.4 919.4 1074.4 922.2 1075.4 925.1 1076.4 927.9 1077.4 930.7 1078.5 933.5 1079.5 936.3 1080.6 939.1 1081.6 941.9 1082.7 944.7 1083.8 947.4 1084.9 950.2 1086.1 953.0 1087.2 955.7 1088.4 958.5 1089.5 961.2 1090.7 963.9 1091.9 966.7 1093.1 969.4 1094.4 972.1 1095.6 974.8 1096.9 977.5 1098.2 980.2 1099.4 982.8 1100.8 985.5 1102.1 988.2 1103.4 990.8 1104.8 993.5 1106.2 996.1 1107.6 998.7 1109.0 1001.4 1110.5 1004.0 1111.9 1006.6 1113.4 1009.2 1114.9 1011.7 1116.4 1014.3 1117.9 1016.9 1119.5 1019.4 1121.1 1022.0 1122.7 1024.5 1124.3 1027.0 1125.9 1029.5 1127.6 1032.0 1129.2 1034.5 1130.9 1037.0 1132.7 1039.5 1134.4 1041.9 1136.2 1044.4 1138.0 1046.8 1139.8 1049.2 1141.6 1051.7 1143.5 1054.1 1145.3 1056.4 1147.2 1058.8 1149.2 1061.2 1151.1 1063.5 1153.1 1065.8 1155.1 1068.1 1157.1 1070.4 1159.1 1072.7 1161.2 1074.9 1163.3 1077.2 1165.4 1079.4 1167.5 1081.5 1169.6 1083.7 1171.8 1085.8 1174.0 1087.9 1176.2 1090.0 1178.5 1092.0 1180.7 1094.1 1183.0 1096.0 1185.3 1098.0 1187.6 1099.9 1190.0 1101.8 1192.3 1103.7 1194.7 1105.5 1197.1 1107.3 1199.6 1109.0 1202.0 1110.7 1204.5 1112.4 1207.0 1114.0 1209.5 1115.6 1212.1 1117.1 1214.6 1118.6 1217.2 1120.1 1219.8 1121.5 1222.5 1122.9 1225.1 1124.2 1227.8 1125.5 1230.4 1126.7 1233.1 1128.0 1235.9 1129.1 1238.6 1130.3 1241.3 1131.5 1244.1 1132.6 1246.8 1133.7 1249.6 1134.8 1252.3 1136.0 1255.1 1137.1 1257.9 1138.2 1260.7 1139.3 1263.4 1140.4 1266.2 1141.6 1269.0 1142.8 1271.7 1143.9 1274.5 1145.1 1277.2 1146.4 1280.0 1147.7 1282.7 1149.0 1285.4 1150.3 1288.1 1151.7 1290.8 1153.2 1293.5 1154.7 1296.1 1156.2 1298.8 1157.8 1301.4 1159.5 1304.0 1161.1 1306.6 1162.9 1309.1 1164.6 1311.7 1166.4 1314.2 1168.2 1316.8 1170.0 1319.3 1171.8 1321.8 1173.5 1324.2 1175.3 1326.7 1177.1 1329.2 1178.8 1331.6 1180.5 1334.1 1182.2 1336.5 1183.9 1338.9 1185.5 1341.3 1187.2 1343.8 1188.9 1346.2 1190.5 1348.5 1192.2 1350.9 1193.9 1353.3 1195.6 1355.7 1197.3 1358.1 1199.0 1360.4 1200.7 1362.8 1202.5 1365.2 1204.3 1367.5 1206.1 1369.9 1207.9 1372.2 1209.7 1374.6 1211.6 1376.9 1213.4 1379.3 1215.3 1381.7 1217.2 1384.0 1219.0 1386.4 1220.9 1388.7 1222.7 1391.1 1224.6 1393.5 1226.4 1395.9 1228.2 1398.2 1230.0 1400.6 1231.8 1403.0 1233.6 1405.4 1235.3 1407.8 1237.1 1410.2 1238.8 1412.7 1240.6 1415.1 1242.3 1417.5 1244.1 1420.0 1245.8 1422.5 1247.6 1424.9 1249.4 1427.4 1251.2 1429.9 1253.0 1432.4 1254.8 1434.9 1256.6 1437.5 1258.4 1440.0 1260.2 1442.6 1261.9 1445.2 1263.6 1447.8 1265.2 1450.4 1266.8 1453.0 1268.4 1455.6 1269.9 1458.3 1271.4 1461.0 1272.8 1463.7 1274.1 1466.4 1275.5 1469.1 1276.8 1471.8 1278.0 1474.6 1279.2 1477.3 1280.4 1480.1 1281.5 1482.9 1282.6 1485.7 1283.6 1488.5 1284.6 1491.3 1285.6 1494.2 1286.5 1497.0 1287.4 1499.9 1288.3 1502.7 1289.2 1505.6 1290.0 1508.5 1290.8 1511.3 1291.5 1514.2 1292.3 1517.1 1293.0 1520.0 1293.7 1522.9 1294.3 1525.9 1295.0 1528.8 1295.6 1531.7 1296.2 1534.6 1296.8 1537.6 1297.4 1540.5 1298.0 1543.5 1298.5 1546.4 1299.0 1549.3 1299.6 1552.3 1300.1 1555.2 1300.6 1558.2 1301.0 1561.2 1301.5 1564.1 1302.0 1567.1 1302.4 1570.0 1302.8 1573.0 1303.3 1576.0 1303.7 1578.9 1304.1 1581.9 1304.5 1584.9 1304.9 1587.9 1305.2 1590.8 1305.6 1593.8 1305.9 1596.8 1306.3 1599.8 1306.6 1602.8 1306.9 1605.8 1307.2 1608.7 1307.5 1611.7 1307.8 1614.7 1308.1 1617.7 1308.4 1620.7 1308.6 1623.7 1308.9 1626.7 1309.1 1629.7 1309.4 1632.7 1309.6 1635.7 1309.8 1638.7 1310.1 1641.7 1310.3 1644.7 1310.5 1647.7 1310.7 1650.7 1310.8 1653.7 1311.0 1656.7 1311.2 1659.8 1311.4 1662.8 1311.5 1665.8 1311.7 1668.8 1311.8 1671.8 1312.0 1674.8 1312.1 1677.8 1312.2 1680.9 1312.3 1683.9 1312.5 1686.9 1312.6 1689.9 1312.7 1692.9 1312.8 1695.9 1312.9 1699.0 1313.0 1702.0 1313.1 1705.0 1313.2 1708.0 1313.2 1711.0 1313.3 1714.1 1313.4 1717.1 1313.5 1720.1 1313.5 1723.1 1313.6 1726.2 1313.7 1729.2 1313.7 1732.2 1313.8 1735.2 1313.8 1738.2 1313.9 1741.3 1313.9 1744.3 1314.0 1747.3 1314.0 1750.3 1314.1 1753.3 1314.1 1756.4 1314.2 1759.4 1314.2 1762.4 1314.2 1765.4 1314.3 1768.4 1314.3 1771.5 1314.4 1774.5 1314.4 1777.5 1314.4 1780.5 1314.5 1783.5 1314.5 1786.5 1314.5 1789.6 1314.6 1792.6 1314.6 1795.6 1314.7 1798.6 1314.7 1801.6 1314.7 1804.6 1314.8 1807.6 1314.8 1810.6 1314.9 1813.6 1314.9 1816.6 1315.0 1819.7 1315.0 1822.7 1315.1 1825.7 1315.1 1828.7 1315.2 1831.7 1315.2 1834.7 1315.3 1837.7 1315.4 1840.7 1315.4 1843.6 1315.5 1846.6 1315.6 1849.6 1315.7 1852.6 1315.8 1855.6 1315.8 1858.6 1315.9 1861.6 1316.0 1864.6 1316.1 1867.5 1316.2 1870.5 1316.4 1873.5 1316.5 1876.5 1316.6 1879.4 1316.7 1882.4 1316.9 1885.4 1317.0 1888.3 1317.1 1891.3 1317.3" stroke="#0000ff"/>
<path d="M347.0 185.5 L350.0 186.0 L372.5 189.8 L387.5 192.8 L402.5 194.3 L410.0 192.8 L421.3 188.7 L440.0 191.3 L455.0 195.0 L464.0 199.5 L470.0 198.3 L485.0 202.8 L491.0 209.5 L493.3 182.5 L498.5 181.0 L501.5 190.0 L507.5 199.0 L516.5 200.5 L519.5 212.5 L537.5 220.0 L560.0 222.3 L571.3 226.8 L578.8 225.3 L585.6 228.3 L590.0 221.0 L612.5 230.0 L620.0 237.6 L627.5 245.8 L629.8 218.0 L657.5 217.3 L702.6 219.5 L710.0 221.5 L740.0 222.8 L762.5 225.0 L788.8 227.3 L815.0 228.8 L835.0 227.5 L838.8 233.5 L849.3 240.3 L859.8 230.5 L880.0 234.3 L910.0 241.8 L910.1 241.7 912.8 242.8 915.5 243.9 918.3 245.0 921.1 246.0 923.9 247.0 926.7 248.0 929.6 249.0 932.4 250.0 935.3 251.0 938.2 252.0 941.0 252.9 943.9 253.9 946.8 254.9 949.7 255.9 952.5 257.0 955.4 258.0 958.2 259.1 961.1 260.2 963.9 261.3 966.7 262.5 969.4 263.7 972.2 265.0 974.9 266.3 977.6 267.6 980.2 269.0 982.8 270.5 985.4 272.0 987.9 273.6 990.4 275.3 992.9 277.0 995.3 278.8 997.6 280.7 1000.0 282.6 1002.3 284.5 1004.5 286.5 1006.7 288.5 1008.9 290.6 1011.1 292.8 1013.2 295.0 1015.3 297.2 1017.3 299.4 1019.3 301.7 1021.3 304.0 1023.3 306.4 1025.2 308.7 1027.1 311.1 1028.9 313.5 1030.8 316.0 1032.6 318.4 1034.3 320.9 1036.1 323.4 1037.8 325.9 1039.5 328.4 1041.2 330.9 1042.8 333.4 1044.4 335.9 1046.0 338.5 1047.6 341.0 1049.2 343.6 1050.7 346.2 1052.2 348.7 1053.7 351.3 1055.1 353.9 1056.6 356.6 1058.0 359.2 1059.4 361.8 1060.8 364.4 1062.1 367.1 1063.5 369.7 1064.8 372.4 1066.1 375.1 1067.4 377.8 1068.7 380.4 1069.9 383.1 1071.2 385.9 1072.4 388.6 1073.6 391.3 1074.8 394.0 1076.0 396.8 1077.2 399.5 1078.3 402.2 1079.4 405.0 1080.6 407.8 1081.7 410.5 1082.8 413.3 1083.9 416.1 1085.0 418.9 1086.0 421.7 1087.1 424.5 1088.1 427.3 1089.1 430.1 1090.2 432.9 1091.2 435.8 1092.2 438.6 1093.1 441.4 1094.1 444.3 1095.1 447.1 1096.0 450.0 1097.0 452.9 1097.9 455.7 1098.8 458.6 1099.7 461.5 1100.6 464.3 1101.5 467.2 1102.4 470.1 1103.2 473.0 1104.1 475.9 1104.9 478.8 1105.8 481.7 1106.6 484.6 1107.4 487.5 1108.2 490.4 1109.0 493.3 1109.8 496.3 1110.6 499.2 1111.4 502.1 1112.2 505.0 1112.9 508.0 1113.7 510.9 1114.4 513.8 1115.1 516.8 1115.9 519.7 1116.6 522.7 1117.3 525.6 1118.0 528.5 1118.7 531.5 1119.4 534.4 1120.1 537.4 1120.8 540.3 1121.4 543.3 1122.1 546.2 1122.7 549.2 1123.4 552.2 1124.0 555.1 1124.7 558.1 1125.3 561.0 1125.9 564.0 1126.5 566.9 1127.2 569.9 1127.8 572.9 1128.4 575.8 1129.0 578.8 1129.6 581.7 1130.1 584.7 1130.7 587.7 1131.3 590.6 1131.9 593.6 1132.4 596.6 1133.0 599.5 1133.5 602.5 1134.1 605.4 1134.6 608.4 1135.1 611.4 1135.7 614.3 1136.2 617.3 1136.7 620.3 1137.2 623.3 1137.8 626.2 1138.3 629.2 1138.8 632.2 1139.3 635.1 1139.8 638.1 1140.2 641.1 1140.7 644.0 1141.2 647.0 1141.7 650.0 1142.1 653.0 1142.6 655.9 1143.1 658.9 1143.5 661.9 1144.0 664.9 1144.4 667.8 1144.9 670.8 1145.3 673.8 1145.8 676.8 1146.2 679.8 1146.6 682.7 1147.0 685.7 1147.5 688.7 1147.9 691.7 1148.3 694.6 1148.7 697.6 1149.1 700.6 1149.5 703.6 1149.9 706.6 1150.3 709.5 1150.7 712.5 1151.1 715.5 1151.5 718.5 1151.9 721.5 1152.3 724.5 1152.7 727.4 1153.0 730.4 1153.4 733.4 1153.8 736.4 1154.2 739.4 1154.5 742.4 1154.9 745.3 1155.3 748.3 1155.6 751.3 1156.0 754.3 1156.3 757.3 1156.7 760.3 1157.0 763.2 1157.4 766.2 1157.7 769.2 1158.1 772.2 1158.4 775.2 1158.8 778.2 1159.1 781.2 1159.4 784.2 1159.8 787.1 1160.1 790.1 1160.4 793.1 1160.8 796.1 1161.1 799.1 1161.4 802.1 1161.8 805.1 1162.1 808.1 1162.4 811.0 1162.7 814.0 1163.0 817.0 1163.4 820.0 1163.7 823.0 1164.0 826.0 1164.3 829.0 1164.6 832.0 1165.0 834.9 1165.3 837.9 1165.6 840.9 1165.9 843.9 1166.2 846.9 1166.5 849.9 1166.8 852.9 1167.2 855.9 1167.5 858.8 1167.8 861.8 1168.1 864.8 1168.4 867.8 1168.7 870.8 1169.0 873.8 1169.3 876.8 1169.7 879.8 1170.0 882.8 1170.3 885.7 1170.6 888.7 1170.9 891.7 1171.2 894.7 1171.5 897.7 1171.9 900.7 1172.2 903.7 1172.5 906.7 1172.8 909.6 1173.1 912.6 1173.5 915.6 1173.8 918.6 1174.1 921.6 1174.4 924.6 1174.8 927.6 1175.1 930.6 1175.4 933.5 1175.8 936.5 1176.1 939.5 1176.4 942.5 1176.8 945.5 1177.1 948.5 1177.5 951.5 1177.8 954.5 1178.2 957.4 1178.5 960.4 1178.9 963.4 1179.2 966.4 1179.6 969.4 1179.9 972.4 1180.3 975.4 1180.7 978.3 1181.0 981.3 1181.4 984.3 1181.8 987.3 1182.2 990.3 1182.6 993.3 1182.9 996.3 1183.3 999.2 1183.7 1002.2 1184.1 1005.2 1184.5 1008.2 1184.9 1011.2 1185.4 1014.2 1185.8 1017.1 1186.2 1020.1 1186.6 1023.1 1187.0 1026.1 1187.5 1029.1 1187.9 1032.1 1188.3 1035.0 1188.8 1038.0 1189.2 1041.0 1189.7 1044.0 1190.2 1047.0 1190.6 1050.0 1191.1 1052.9 1191.6 1055.9 1192.0 1058.9 1192.5 1061.9 1193.0 1064.9 1193.5 1067.8 1194.0 1070.8 1194.5 1073.8 1195.0 1076.8 1195.6 1079.8 1196.1 1082.7 1196.6 1085.7 1197.2 1088.7 1197.7 1091.7 1198.2 1094.7 1198.8 1097.6 1199.4 1100.6 1199.9 1103.6 1200.5 1106.6 1201.1 1109.6 1201.7 1112.5 1202.3 1115.5 1202.9 1118.5 1203.5 1121.5 1204.1 1124.4 1204.7 1127.4 1205.4 1130.4 1206.0 1133.4 1206.7 1136.3 1207.4 1139.3 1208.1 1142.2 1208.9 1145.1 1209.6 1148.0 1210.5 1150.9 1211.3 1153.8 1212.2 1156.6 1213.2 1159.5 1214.1 1162.3 1215.2 1165.0 1216.3 1167.8 1217.4 1170.5 1218.6 1173.2 1219.8 1175.8 1221.2 1178.5 1222.6 1181.0 1224.0 1183.6 1225.6 1186.0 1227.2 1188.5 1228.9 1190.8 1230.8 1193.1 1232.7 1195.2 1234.8 1197.3 1237.0 1199.3 1239.4 1201.2 1241.9 1202.9 1244.5 1204.6 1247.1 1206.1 1249.9 1207.6 1252.7 1208.9 1255.5 1210.2 1258.4 1211.4 1261.2 1212.5 1264.0 1213.5 1266.9 1214.5 1269.7 1215.5 1272.6 1216.3 1275.4 1217.2 1278.3 1218.0 1281.1 1218.7 1284.0 1219.4 1286.8 1220.1 1289.7 1220.8 1292.6 1221.4 1295.4 1222.1 1298.3 1222.7 1301.2 1223.3 1304.1 1224.0 1307.0 1224.6 1309.9 1225.2 1312.7 1225.9 1315.6 1226.6 1318.5 1227.3 1321.4 1228.0 1324.3 1228.7 1327.2 1229.5 1330.1 1230.2 1333.0 1231.0 1336.0 1231.8 1338.9 1232.5 1341.8 1233.3 1344.7 1234.1 1347.6 1234.9 1350.5 1235.7 1353.5 1236.5 1356.4 1237.3 1359.3 1238.2 1362.2 1239.0 1365.2 1239.8 1368.1 1240.6 1371.0 1241.4 1374.0 1242.2 1376.9 1243.0 1379.9 1243.8 1382.8 1244.6 1385.7 1245.4 1388.7 1246.2 1391.6 1247.0 1394.6 1247.7 1397.5 1248.5 1400.5 1249.2 1403.4 1249.9 1406.4 1250.7 1409.3 1251.4 1412.3 1252.0 1415.2 1252.7 1418.2 1253.4 1421.1 1254.0 1424.1 1254.6 1427.1 1255.3 1430.0 1255.9 1433.0 1256.4 1435.9 1257.0 1438.9 1257.6 1441.9 1258.1 1444.8 1258.6 1447.8 1259.2 1450.8 1259.7 1453.7 1260.2 1456.7 1260.7 1459.7 1261.1 1462.6 1261.6 1465.6 1262.1 1468.6 1262.5 1471.5 1262.9 1474.5 1263.3 1477.5 1263.8 1480.5 1264.2 1483.4 1264.6 1486.4 1264.9 1489.4 1265.3 1492.4 1265.7 1495.4 1266.1 1498.3 1266.4 1501.3 1266.8 1504.3 1267.1 1507.3 1267.4 1510.3 1267.7 1513.2 1268.1 1516.2 1268.4 1519.2 1268.7 1522.2 1269.0 1525.2 1269.3 1528.2 1269.6 1531.1 1269.9 1534.1 1270.1 1537.1 1270.4 1540.1 1270.7 1543.1 1270.9 1546.1 1271.2 1549.1 1271.5 1552.1 1271.7 1555.1 1272.0 1558.1 1272.2 1561.0 1272.5 1564.0 1272.7 1567.0 1273.0 1570.0 1273.2 1573.0 1273.5 1576.0 1273.7 1579.0 1274.0 1582.0 1274.2 1585.0 1274.5 1588.0 1274.7 1591.0 1274.9 1594.0 1275.2 1597.0 1275.4 1600.0 1275.6 1603.0 1275.9 1606.0 1276.1 1609.0 1276.3 1612.0 1276.6 1615.0 1276.8 1618.0 1277.0 1621.0 1277.3 1624.0 1277.5 1627.0 1277.7 1630.0 1277.9 1633.0 1278.2 1636.0 1278.4 1639.0 1278.6 1642.0 1278.8 1645.0 1279.0 1648.0 1279.3 1651.0 1279.5 1654.0 1279.7 1657.0 1279.9 1660.1 1280.1 1663.1 1280.3 1666.1 1280.5 1669.1 1280.8 1672.1 1281.0 1675.1 1281.2 1678.1 1281.4 1681.1 1281.6 1684.1 1281.8 1687.1 1282.0 1690.1 1282.2 1693.1 1282.4 1696.1 1282.6 1699.1 1282.8 1702.2 1283.0 1705.2 1283.2 1708.2 1283.4 1711.2 1283.6 1714.2 1283.8 1717.2 1284.0 1720.2 1284.2 1723.2 1284.4 1726.2 1284.6 1729.2 1284.8 1732.2 1285.0 1735.2 1285.2 1738.3 1285.4 1741.3 1285.6 1744.3 1285.8 1747.3 1286.0 1750.3 1286.1 1753.3 1286.3 1756.3 1286.5 1759.3 1286.7 1762.3 1286.9 1765.3 1287.1 1768.3 1287.3 1771.3 1287.4 1774.4 1287.6 1777.4 1287.8 1780.4 1288.0 1783.4 1288.2 1786.4 1288.3 1789.4 1288.5 1792.4 1288.7 1795.4 1288.9 1798.4 1289.1 1801.4 1289.2 1804.4 1289.4 1807.4 1289.6 1810.4 1289.8 1813.4 1289.9 1816.5 1290.1 1819.5 1290.3 1822.5 1290.4 1825.5 1290.6 1828.5 1290.8 1831.5 1291.0 1834.5 1291.1 1837.5 1291.3 1840.5 1291.5 1843.5 1291.6 1846.5 1291.8 1849.5 1292.0 1852.5 1292.1 1855.5 1292.3 1858.5 1292.5 1861.5 1292.6 1864.5 1292.8 1867.5 1292.9 1870.5 1293.1 1873.5 1293.3 1876.5 1293.4 1879.5 1293.6 1882.5 1293.7 1885.5 1293.9 1888.5 1294.1 1891.5 1294.2" stroke="#008080"/>
<path d="M1217 1119.5 L1220.5 1128.5 L1224 1123" stroke="#0000ff" stroke-width="4"/>
<path d="M347.1 149.7 350.0 150.0 353.0 150.3 355.9 150.7 358.8 151.1 361.8 151.5 364.7 152.0 367.7 152.5 370.6 153.0 373.5 153.5 376.5 154.1 379.4 154.7 382.4 155.3 385.3 155.9 388.3 156.5 391.2 157.1 394.2 157.8 397.1 158.4 400.1 159.1 403.0 159.7 406.0 160.4 408.9 161.0 411.9 161.7 414.9 162.3 417.8 163.0 420.8 163.6 423.8 164.2 426.7 164.8 429.7 165.4 432.7 166.0 435.6 166.6 438.6 167.1 441.6 167.6 444.5 168.1 447.5 168.6 450.5 169.0 453.4 169.4 456.4 169.8 459.4 170.2 462.4 170.6 465.4 170.9 468.3 171.2 471.3 171.5 474.3 171.8 477.3 172.1 480.3 172.3 483.2 172.6 486.2 172.8 489.2 173.0 492.2 173.2 495.2 173.4 498.2 173.5 501.2 173.7 504.1 173.8 507.1 174.0 510.1 174.1 513.1 174.2 516.1 174.3 519.1 174.4 522.1 174.4 525.1 174.5 528.1 174.6 531.1 174.6 534.1 174.7 537.1 174.7 540.1 174.7 543.1 174.8 546.1 174.8 549.1 174.8 552.1 174.8 555.1 174.9 558.1 174.9 561.1 174.9 564.1 174.9 567.1 174.9 570.1 174.9 573.1 174.9 576.1 175.0 579.1 175.0 582.1 175.0 585.1 175.0 588.1 175.1 591.1 175.1 594.1 175.1 597.1 175.2 600.1 175.2 603.1 175.3 606.1 175.3 609.1 175.4 612.1 175.4 615.1 175.5 618.1 175.6 621.1 175.6 624.2 175.7 627.2 175.8 630.2 175.9 633.2 176.0 636.2 176.1 639.2 176.1 642.2 176.2 645.2 176.3 648.2 176.4 651.2 176.5 654.2 176.6 657.2 176.7 660.3 176.8 663.3 176.9 666.3 177.0 669.3 177.1 672.3 177.2 675.3 177.4 678.3 177.5 681.3 177.6 684.3 177.7 687.3 177.8 690.3 177.9 693.4 178.0 696.4 178.1 699.4 178.2 702.4 178.3 705.4 178.4 708.4 178.5 711.4 178.6 714.4 178.7 717.4 178.9 720.4 179.0 723.4 179.1 726.4 179.2 729.4 179.2 732.4 179.3 735.5 179.4 738.5 179.5 741.5 179.6 744.5 179.7 747.5 179.8 750.5 179.9 753.5 179.9 756.5 180.0 759.5 180.1 762.5 180.1 765.5 180.2 768.5 180.3 771.5 180.3 774.5 180.4 777.5 180.4 780.5 180.5 783.5 180.5 786.5 180.5 789.5 180.6 792.5 180.6 795.5 180.6 798.5 180.6 801.5 180.7 804.5 180.7 807.4 180.7 810.4 180.8 813.4 180.8 816.4 180.9 819.4 180.9 822.4 181.0 825.4 181.1 828.4 181.2 831.4 181.3 834.4 181.4 837.3 181.6 840.3 181.7 843.3 181.9 846.3 182.1 849.3 182.3 852.3 182.6 855.3 182.9 858.2 183.2 861.2 183.5 864.2 183.8 867.2 184.2 870.1 184.6 873.1 185.0 876.1 185.4 879.1 185.9 882.0 186.3 885.0 186.8 888.0 187.3 891.0 187.9 893.9 188.4 896.9 189.0 899.9 189.5 902.8 190.1 905.8 190.7 908.8 191.4 911.7 192.0 914.7 192.7 917.6 193.3 920.6 194.0 923.5 194.7 926.5 195.5 929.4 196.2 932.4 197.0 935.3 197.8 938.2 198.6 941.1 199.4 944.0 200.3 946.9 201.1 949.8 202.1 952.7 203.0 955.5 204.0 958.3 204.9 961.2 206.0 964.0 207.0 966.8 208.1 969.5 209.2 972.3 210.4 975.0 211.6 977.8 212.8 980.5 214.0 983.1 215.3 985.8 216.6 988.4 218.0 991.0 219.4 993.6 220.9 996.2 222.3 998.7 223.9 1001.2 225.4 1003.7 227.0 1006.1 228.7 1008.5 230.4 1010.9 232.2 1013.3 233.9 1015.6 235.8 1017.9 237.7 1020.2 239.6 1022.4 241.6 1024.6 243.7 1026.7 245.7 1028.9 247.9 1030.9 250.1 1033.0 252.3 1035.0 254.6 1037.0 256.9 1039.0 259.2 1040.9 261.6 1042.8 264.0 1044.6 266.5 1046.4 268.9 1048.2 271.5 1050.0 274.0 1051.7 276.5 1053.4 279.1 1055.1 281.7 1056.7 284.4 1058.3 287.0 1059.9 289.6 1061.4 292.3 1063.0 295.0 1064.5 297.7 1065.9 300.4 1067.4 303.1 1068.8 305.8 1070.1 308.5 1071.5 311.2 1072.8 313.9 1074.1 316.6 1075.4 319.3 1076.7 322.1 1077.9 324.8 1079.1 327.6 1080.3 330.3 1081.5 333.1 1082.6 335.8 1083.7 338.6 1084.8 341.3 1085.9 344.1 1087.0 346.9 1088.0 349.7 1089.0 352.4 1090.1 355.2 1091.1 358.0 1092.0 360.8 1093.0 363.6 1093.9 366.4 1094.9 369.2 1095.8 372.0 1096.7 374.8 1097.6 377.7 1098.5 380.5 1099.4 383.3 1100.2 386.1 1101.1 389.0 1101.9 391.8 1102.8 394.7 1103.6 397.5 1104.4 400.4 1105.2 403.2 1106.0 406.1 1106.8 408.9 1107.6 411.8 1108.4 414.6 1109.2 417.5 1110.0 420.4 1110.7 423.3 1111.5 426.1 1112.2 429.0 1113.0 431.9 1113.7 434.8 1114.5 437.7 1115.2 440.6 1115.9 443.5 1116.6 446.4 1117.3 449.3 1118.0 452.2 1118.7 455.1 1119.4 458.0 1120.1 460.9 1120.7 463.9 1121.4 466.8 1122.1 469.7 1122.7 472.6 1123.4 475.5 1124.0 478.5 1124.6 481.4 1125.3 484.3 1125.9 487.3 1126.5 490.2 1127.1 493.2 1127.7 496.1 1128.3 499.1 1128.9 502.0 1129.5 505.0 1130.0 507.9 1130.6 510.9 1131.2 513.8 1131.7 516.8 1132.3 519.7 1132.8 522.7 1133.4 525.7 1133.9 528.6 1134.4 531.6 1135.0 534.6 1135.5 537.5 1136.0 540.5 1136.5 543.5 1137.0 546.5 1137.5 549.4 1138.0 552.4 1138.5 555.4 1139.0 558.4 1139.5 561.4 1139.9 564.3 1140.4 567.3 1140.9 570.3 1141.3 573.3 1141.8 576.3 1142.2 579.3 1142.7 582.3 1143.1 585.2 1143.6 588.2 1144.0 591.2 1144.4 594.2 1144.9 597.2 1145.3 600.2 1145.7 603.2 1146.1 606.2 1146.5 609.2 1147.0 612.2 1147.4 615.2 1147.8 618.2 1148.2 621.2 1148.6 624.2 1148.9 627.2 1149.3 630.2 1149.7 633.2 1150.1 636.2 1150.5 639.2 1150.9 642.2 1151.2 645.2 1151.6 648.2 1152.0 651.2 1152.3 654.2 1152.7 657.2 1153.1 660.2 1153.4 663.2 1153.8 666.2 1154.1 669.2 1154.5 672.2 1154.8 675.2 1155.2 678.2 1155.5 681.2 1155.9 684.2 1156.2 687.2 1156.5 690.2 1156.9 693.2 1157.2 696.2 1157.6 699.2 1157.9 702.2 1158.2 705.2 1158.5 708.2 1158.9 711.2 1159.2 714.1 1159.5 717.1 1159.9 720.1 1160.2 723.1 1160.5 726.1 1160.8 729.1 1161.1 732.1 1161.5 735.1 1161.8 738.1 1162.1 741.0 1162.4 744.0 1162.7 747.0 1163.0 750.0 1163.3 753.0 1163.7 756.0 1164.0 759.0 1164.3 761.9 1164.6 764.9 1164.9 767.9 1165.2 770.9 1165.5 773.9 1165.8 776.8 1166.1 779.8 1166.4 782.8 1166.7 785.8 1167.0 788.8 1167.3 791.7 1167.6 794.7 1167.9 797.7 1168.2 800.7 1168.5 803.6 1168.8 806.6 1169.1 809.6 1169.4 812.6 1169.7 815.6 1170.0 818.5 1170.3 821.5 1170.6 824.5 1170.9 827.5 1171.2 830.4 1171.5 833.4 1171.8 836.4 1172.1 839.4 1172.4 842.3 1172.7 845.3 1173.0 848.3 1173.3 851.3 1173.6 854.2 1173.9 857.2 1174.2 860.2 1174.5 863.1 1174.8 866.1 1175.1 869.1 1175.4 872.1 1175.7 875.0 1176.0 878.0 1176.3 881.0 1176.6 884.0 1176.9 886.9 1177.2 889.9 1177.5 892.9 1177.8 895.9 1178.1 898.8 1178.4 901.8 1178.7 904.8 1179.1 907.8 1179.4 910.7 1179.7 913.7 1180.0 916.7 1180.3 919.7 1180.6 922.6 1180.9 925.6 1181.2 928.6 1181.5 931.6 1181.8 934.5 1182.2 937.5 1182.5 940.5 1182.8 943.5 1183.1 946.4 1183.4 949.4 1183.7 952.4 1184.1 955.4 1184.4 958.3 1184.7 961.3 1185.0 964.3 1185.4 967.3 1185.7 970.3 1186.0 973.2 1186.3 976.2 1186.7 979.2 1187.0 982.2 1187.3 985.2 1187.7 988.1 1188.0 991.1 1188.4 994.1 1188.7 997.1 1189.0 1000.1 1189.4 1003.1 1189.7 1006.0 1190.1 1009.0 1190.4 1012.0 1190.8 1015.0 1191.1 1018.0 1191.5 1021.0 1191.8 1024.0 1192.2 1027.0 1192.6 1029.9 1192.9 1032.9 1193.3 1035.9 1193.7 1038.9 1194.0 1041.9 1194.4 1044.9 1194.8 1047.9 1195.1 1050.9 1195.5 1053.9 1195.9 1056.9 1196.3 1059.9 1196.7 1062.9 1197.0 1065.9 1197.4 1068.9 1197.8 1071.9 1198.2 1074.9 1198.6 1077.9 1199.0 1080.9 1199.4 1083.9 1199.8 1086.9 1200.2 1089.9 1200.6 1092.9 1201.0 1095.9 1201.5 1098.9 1201.9 1101.9 1202.3 1104.9 1202.7 1107.9 1203.1 1110.9 1203.6 1114.0 1204.0 1117.0 1204.4 1120.0 1204.9 1123.0 1205.3 1126.0 1205.8 1129.0 1206.2 1132.0 1206.7 1135.0 1207.2 1138.0 1207.8 1141.0 1208.3 1144.0 1208.9 1146.9 1209.5 1149.9 1210.2 1152.8 1210.9 1155.7 1211.6 1158.6 1212.4 1161.5 1213.3 1164.3 1214.2 1167.2 1215.2 1170.0 1216.2 1172.7 1217.3 1175.5 1218.5 1178.2 1219.8 1180.8 1221.1 1183.5 1222.5 1186.1 1224.0 1188.6 1225.6 1191.2 1227.3 1193.6 1229.1 1196.1 1231.0 1198.4 1233.0 1200.7 1235.0 1202.9 1237.2 1204.9 1239.4 1206.7 1241.7 1208.4 1244.1 1209.9 1246.5 1211.3 1249.0 1212.5 1251.6 1213.6 1254.2 1214.7 1256.9 1215.6 1259.6 1216.5 1262.4 1217.3 1265.2 1218.1 1268.1 1218.8 1270.9 1219.5 1273.8 1220.1 1276.7 1220.8 1279.7 1221.4 1282.6 1221.9 1285.6 1222.5 1288.6 1223.1 1291.5 1223.7 1294.5 1224.2 1297.5 1224.8 1300.4 1225.4 1303.4 1226.1 1306.4 1226.7 1309.3 1227.3 1312.3 1227.9 1315.3 1228.6 1318.2 1229.2 1321.2 1229.8 1324.2 1230.5 1327.1 1231.1 1330.1 1231.8 1333.1 1232.4 1336.0 1233.1 1339.0 1233.8 1342.0 1234.4 1344.9 1235.1 1347.9 1235.7 1350.9 1236.4 1353.8 1237.0 1356.8 1237.7 1359.8 1238.3 1362.7 1239.0 1365.7 1239.6 1368.7 1240.2 1371.6 1240.9 1374.6 1241.5 1377.6 1242.1 1380.5 1242.7 1383.5 1243.4 1386.4 1244.0 1389.4 1244.5 1392.4 1245.1 1395.3 1245.7 1398.3 1246.3 1401.3 1246.8 1404.2 1247.4 1407.2 1247.9 1410.2 1248.4 1413.1 1249.0 1416.1 1249.5 1419.0 1250.0 1422.0 1250.4 1425.0 1250.9 1427.9 1251.4 1430.9 1251.8 1433.8 1252.3 1436.8 1252.7 1439.8 1253.2 1442.7 1253.6 1445.7 1254.0 1448.7 1254.4 1451.6 1254.8 1454.6 1255.2 1457.5 1255.6 1460.5 1256.0 1463.5 1256.4 1466.4 1256.8 1469.4 1257.2 1472.4 1257.5 1475.3 1257.9 1478.3 1258.2 1481.3 1258.6 1484.2 1258.9 1487.2 1259.3 1490.2 1259.6 1493.1 1260.0 1496.1 1260.3 1499.1 1260.7 1502.0 1261.0 1505.0 1261.3 1508.0 1261.7 1511.0 1262.0 1513.9 1262.3 1516.9 1262.6 1519.9 1263.0 1522.9 1263.3 1525.8 1263.6 1528.8 1263.9 1531.8 1264.2 1534.8 1264.5 1537.8 1264.9 1540.7 1265.2 1543.7 1265.5 1546.7 1265.8 1549.7 1266.1 1552.7 1266.4 1555.7 1266.7 1558.6 1267.0 1561.6 1267.3 1564.6 1267.5 1567.6 1267.8 1570.6 1268.1 1573.6 1268.4 1576.6 1268.7 1579.6 1269.0 1582.6 1269.2 1585.5 1269.5 1588.5 1269.8 1591.5 1270.1 1594.5 1270.3 1597.5 1270.6 1600.5 1270.9 1603.5 1271.1 1606.5 1271.4 1609.5 1271.6 1612.5 1271.9 1615.5 1272.2 1618.5 1272.4 1621.5 1272.7 1624.5 1272.9 1627.5 1273.2 1630.5 1273.4 1633.5 1273.7 1636.5 1273.9 1639.5 1274.1 1642.5 1274.4 1645.5 1274.6 1648.5 1274.8 1651.5 1275.1 1654.5 1275.3 1657.5 1275.5 1660.5 1275.8 1663.5 1276.0 1666.5 1276.2 1669.5 1276.4 1672.5 1276.6 1675.5 1276.9 1678.5 1277.1 1681.5 1277.3 1684.5 1277.5 1687.5 1277.7 1690.5 1277.9 1693.5 1278.1 1696.5 1278.3 1699.5 1278.5 1702.5 1278.7 1705.5 1278.9 1708.5 1279.1 1711.5 1279.3 1714.5 1279.5 1717.5 1279.7 1720.5 1279.9 1723.5 1280.1 1726.5 1280.3 1729.5 1280.5 1732.5 1280.6 1735.5 1280.8 1738.5 1281.0 1741.5 1281.2 1744.5 1281.4 1747.5 1281.5 1750.5 1281.7 1753.6 1281.9 1756.6 1282.0 1759.6 1282.2 1762.6 1282.4 1765.6 1282.5 1768.6 1282.7 1771.6 1282.9 1774.6 1283.0 1777.6 1283.2 1780.6 1283.3 1783.6 1283.5 1786.6 1283.7 1789.6 1283.8 1792.6 1284.0 1795.6 1284.1 1798.6 1284.2 1801.6 1284.4 1804.6 1284.5 1807.6 1284.7 1810.6 1284.8 1813.6 1285.0 1816.6 1285.1 1819.6 1285.2 1822.6 1285.4 1825.6 1285.5 1828.6 1285.6 1831.6 1285.8 1834.6 1285.9 1837.6 1286.0 1840.6 1286.1 1843.6 1286.3 1846.6 1286.4 1849.5 1286.5 1852.5 1286.6 1855.5 1286.7 1858.5 1286.8 1861.5 1287.0 1864.5 1287.1 1867.5 1287.2 1870.5 1287.3 1873.5 1287.4 1876.5 1287.5 1879.5 1287.6 1882.5 1287.7 1885.4 1287.8 1888.4 1287.9 1891.4 1288.0" stroke="#ff00ff"/>
</g>
<g fill="none" stroke="#000" stroke-width="9.2" stroke-linecap="round" stroke-linejoin="round">
<path d="M321 87.6 H346.0 V1426.0 H2165.3 V1450.5"/>
<path d="M346.0 1426.0 H321.0 M346.0 1158.3 H321.0 M346.0 890.6 H321.0 M346.0 623.0 H321.0 M346.0 355.3 H321.0 M346.0 87.6 H321.0 M346.0 1292.2 H335.0 M346.0 1024.5 H335.0 M346.0 756.8 H335.0 M346.0 489.1 H335.0 M346.0 221.4 H335.0 M537.3 1426.0 V1450.5 M808.6 1426.0 V1450.5 M1080.0 1426.0 V1450.5 M1351.3 1426.0 V1450.5 M1622.6 1426.0 V1450.5 M1893.9 1426.0 V1450.5 M401.6 1426.0 V1438.5 M673.0 1426.0 V1438.5 M944.3 1426.0 V1438.5 M1215.6 1426.0 V1438.5 M1487.0 1426.0 V1438.5 M1758.3 1426.0 V1438.5 M2029.6 1426.0 V1438.5"/>
</g>
<g class="tick"><text x="300" y="1447.8" text-anchor="end">0</text><text x="300" y="1180.1" text-anchor="end">20</text><text x="300" y="912.4" text-anchor="end">40</text><text x="300" y="644.8" text-anchor="end">60</text><text x="300" y="377.1" text-anchor="end">80</text><text x="300" y="109.4" text-anchor="end">100</text><text x="537.3" y="1536" text-anchor="middle">100</text><text x="808.6" y="1536" text-anchor="middle">200</text><text x="1080.0" y="1536" text-anchor="middle">300</text><text x="1351.3" y="1536" text-anchor="middle">400</text><text x="1622.6" y="1536" text-anchor="middle">500</text><text x="1893.9" y="1536" text-anchor="middle">600</text><text x="2165.3" y="1536" text-anchor="middle">700</text></g>
<rect x="1178.8" y="173.2" width="1241.7" height="425" fill="none" stroke="#8a8a8a" stroke-width="3.2"/>
<g class="serif" font-size="69"><path d="M1214 222.0 H1370" stroke="#000000" stroke-width="5.6" stroke-linecap="round"/><text x="1385" y="245.0">paper</text><path d="M1214 306.3 H1370" stroke="#ff0000" stroke-width="5.6" stroke-linecap="round"/><text x="1385" y="329.3">PLGA+essential oil</text><path d="M1214 390.6 H1370" stroke="#0000ff" stroke-width="5.6" stroke-linecap="round"/><text x="1385" y="413.6">chitosan-PLGA+essential oil</text><path d="M1214 474.9 H1370" stroke="#008080" stroke-width="5.6" stroke-linecap="round"/><text x="1385" y="497.9">PLGA microparticles paper</text><path d="M1214 559.2 H1370" stroke="#ff00ff" stroke-width="5.6" stroke-linecap="round"/><text x="1385" y="582.2">chitosan-PLGA microparticles paper</text></g>
<text class="serif" font-size="84" transform="translate(110,970) rotate(-90)" textLength="400" lengthAdjust="spacing">Weight (%)</text>
<text class="serif" font-size="84" x="965" y="1675">Temperature (<tspan font-family="'Noto Sans CJK SC',sans-serif" font-weight="300" font-size="80" dx="-5" dy="-2">℃</tspan><tspan dx="8" dy="2">)</tspan></text>
</svg>
</body></html>
